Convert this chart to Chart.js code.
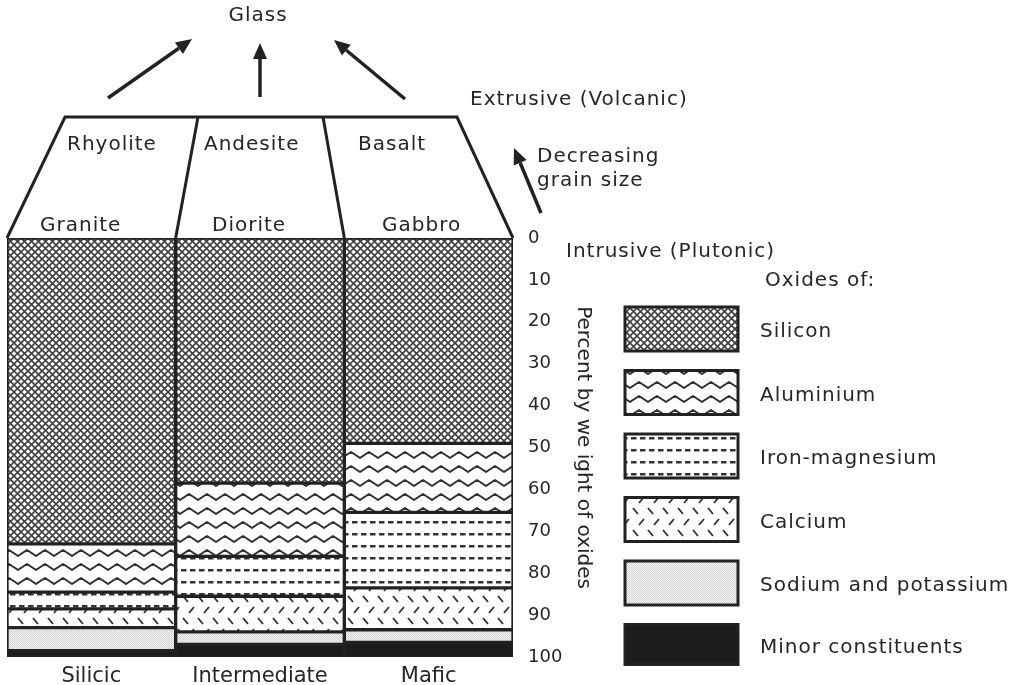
<!DOCTYPE html>
<html>
<head>
<meta charset="utf-8">
<title>Oxides in igneous rocks</title>
<script src="https://cdn.jsdelivr.net/npm/chart.js@4.4.0/dist/chart.umd.min.js"></script>
<style>
  html, body { margin: 0; padding: 0; background: #fff; }
  #wrap { width: 1022px; height: 685px; }
</style>
</head>
<body>
<div id="wrap"><canvas id="rockChart" width="1022" height="685"></canvas></div>
<script>
// column groups and the rocks above them
const groups = ['Silicic', 'Intermediate', 'Mafic'];
const volcanicRocks = ['Rhyolite', 'Andesite', 'Basalt'];
const plutonicRocks = ['Granite', 'Diorite', 'Gabbro'];

// percent by weight of oxides, top of column downwards
const silicon = [73, 58.5, 49];
const aluminium = [11.5, 17.5, 16.5];
const ironMagnesium = [4, 9.5, 18];
const calcium = [4.5, 8.5, 10];
const sodiumPotassium = [5.5, 3, 3];
const minor = [1.5, 3, 3.5];

const oxideNames = ['Silicon', 'Aluminium', 'Iron-magnesium', 'Calcium', 'Sodium and potassium', 'Minor constituents'];

const INK = '#262626';
const FONT = '"DejaVu Sans", sans-serif';

// small tiles turned into canvas patterns for the hatched fills
function makePattern(w, h, paint) {
    const tile = document.createElement('canvas');
    tile.width = w;
    tile.height = h;
    const t = tile.getContext('2d');
    t.fillStyle = '#fff';
    t.fillRect(0, 0, w, h);
    paint(t);
    return t.createPattern(tile, 'repeat');
}

const fills = [
    // silicon: crosshatch leaving small white diamonds
    makePattern(7, 7, t => {
        t.strokeStyle = '#444';
        t.lineWidth = 1.7;
        t.beginPath();
        t.moveTo(-1, -1); t.lineTo(8, 8);
        t.moveTo(8, -1); t.lineTo(-1, 8);
        t.stroke();
    }),
    // aluminium: zigzag rows
    makePattern(18, 14, t => {
        t.strokeStyle = '#333';
        t.lineWidth = 2;
        t.lineJoin = 'round';
        t.beginPath();
        t.moveTo(-9, 4); t.lineTo(0, 10); t.lineTo(9, 4); t.lineTo(18, 10); t.lineTo(27, 4);
        t.stroke();
    }),
    // iron-magnesium: dashed rows
    makePattern(9, 12, t => {
        t.fillStyle = '#333';
        t.fillRect(1, 5, 5.5, 2.5);
    }),
    // calcium: alternating short diagonal ticks
    makePattern(15, 22, t => {
        t.strokeStyle = '#333';
        t.lineWidth = 1.9;
        t.beginPath();
        t.moveTo(3, 2); t.lineTo(8, 8);
        t.moveTo(9, 19); t.lineTo(14, 13);
        t.stroke();
    }),
    // sodium and potassium: fine light stipple
    makePattern(2, 2, t => {
        t.fillStyle = '#f7f7f7';
        t.fillRect(0, 0, 2, 2);
        t.fillStyle = '#cfcfcf';
        t.fillRect(0, 0, 1, 1);
        t.fillRect(1, 1, 1, 1);
    }),
    // minor constituents: solid black
    '#1c1c1c'
];

const seriesValues = [silicon, aluminium, ironMagnesium, calcium, sodiumPotassium, minor];

const datasets = seriesValues.map((vals, i) => ({
    label: oxideNames[i],
    data: vals,
    backgroundColor: fills[i],
    borderColor: '#222',
    borderWidth: 2,
    borderSkipped: false,
    categoryPercentage: 1,
    barPercentage: 1
}));

function drawText(ctx, str, x, y, align) {
    ctx.textAlign = align || 'left';
    ctx.fillText(str, x, y);
}

function drawArrow(ctx, x1, y1, x2, y2) {
    const ang = Math.atan2(y2 - y1, x2 - x1);
    const len = 16, half = 7;
    const bx = x2 - len * Math.cos(ang), by = y2 - len * Math.sin(ang);
    ctx.beginPath();
    ctx.moveTo(x1, y1);
    ctx.lineTo(bx, by);
    ctx.stroke();
    ctx.beginPath();
    ctx.moveTo(x2, y2);
    ctx.lineTo(bx + half * Math.sin(ang), by - half * Math.cos(ang));
    ctx.lineTo(bx - half * Math.sin(ang), by + half * Math.cos(ang));
    ctx.closePath();
    ctx.fill();
}

// the rock-name trapezoid, arrows, side notes and the legend boxes
const diagramPlugin = {
    id: 'rockDiagram',
    afterDraw(chart) {
        const ctx = chart.ctx;
        const area = chart.chartArea;
        const xs = chart.scales.x;
        const half = (xs.getPixelForValue(1) - xs.getPixelForValue(0)) / 2;
        const bottomX = [
            xs.getPixelForValue(0) - half,
            xs.getPixelForValue(0) + half,
            xs.getPixelForValue(1) + half,
            xs.getPixelForValue(2) + half
        ];
        const topX = [65, 198, 323, 457];
        const topY = area.top - 121;

        ctx.save();
        ctx.strokeStyle = '#222';
        ctx.fillStyle = '#222';
        ctx.lineWidth = 3;
        ctx.lineCap = 'butt';
        ctx.beginPath();
        ctx.moveTo(bottomX[0], area.top);
        ctx.lineTo(topX[0], topY);
        ctx.lineTo(topX[3], topY);
        ctx.lineTo(bottomX[3], area.top);
        ctx.moveTo(topX[1], topY); ctx.lineTo(bottomX[1], area.top);
        ctx.moveTo(topX[2], topY); ctx.lineTo(bottomX[2], area.top);
        ctx.stroke();

        ctx.lineWidth = 3.5;
        drawArrow(ctx, 108, 98, 192, 39);
        drawArrow(ctx, 260, 97, 260, 43);
        drawArrow(ctx, 405, 99, 334, 40);
        drawArrow(ctx, 541, 213, 514, 148);

        ctx.fillStyle = INK;
        ctx.font = '20px ' + FONT;
        ctx.textBaseline = 'middle';
        if ('letterSpacing' in ctx) ctx.letterSpacing = '1px';

        drawText(ctx, 'Glass', 258, 16, 'center');
        drawText(ctx, 'Extrusive (Volcanic)', 470, 100);
        drawText(ctx, 'Decreasing', 537, 157);
        drawText(ctx, 'grain size', 537, 181);
        drawText(ctx, 'Intrusive (Plutonic)', 566, 252);
        drawText(ctx, 'Oxides of:', 765, 281);

        const volX = [67, 204, 358];
        const pluX = [40, 212, 382];
        volcanicRocks.forEach((r, i) => drawText(ctx, r, volX[i], 145));
        plutonicRocks.forEach((r, i) => drawText(ctx, r, pluX[i], 226));

        // legend, built from the datasets
        chart.data.datasets.forEach((ds, i) => {
            const bx = 625, by = 307 + i * 63.5, bw = 113, bh = i === 5 ? 40 : 44;
            ctx.fillStyle = ds.backgroundColor;
            ctx.fillRect(bx, by, bw, bh);
            ctx.strokeStyle = '#222';
            ctx.lineWidth = 3;
            ctx.strokeRect(bx, by, bw, bh);
            ctx.fillStyle = INK;
            drawText(ctx, ds.label, 760, by + bh / 2 + 3);
        });
        ctx.restore();
    }
};

new Chart(document.getElementById('rockChart'), {
    type: 'bar',
    data: { labels: groups, datasets: datasets },
    options: {
        responsive: false,
        animation: false,
        events: [],
        layout: { padding: { left: 7, top: 238, right: 427, bottom: 0 } },
        plugins: {
            legend: { display: false },
            tooltip: { enabled: false }
        },
        scales: {
            x: {
                stacked: true,
                grid: { display: false, drawTicks: false },
                border: { display: false },
                ticks: { color: INK, padding: 7, font: { family: FONT, size: 21 } },
                afterFit: s => { s.height = 28; }
            },
            y: {
                stacked: true,
                position: 'right',
                reverse: true,
                min: 0,
                max: 100,
                grid: { display: false, drawTicks: false },
                border: { display: false },
                ticks: { stepSize: 10, color: INK, padding: 15, font: { family: FONT, size: 18 } },
                title: {
                    display: true,
                    text: 'Percent by we ight of oxides',
                    color: INK,
                    padding: 0,
                    font: { family: FONT, size: 20 }
                },
                afterFit: s => { s.width = 82; }
            }
        }
    },
    plugins: [diagramPlugin]
});
</script>
</body>
</html>
